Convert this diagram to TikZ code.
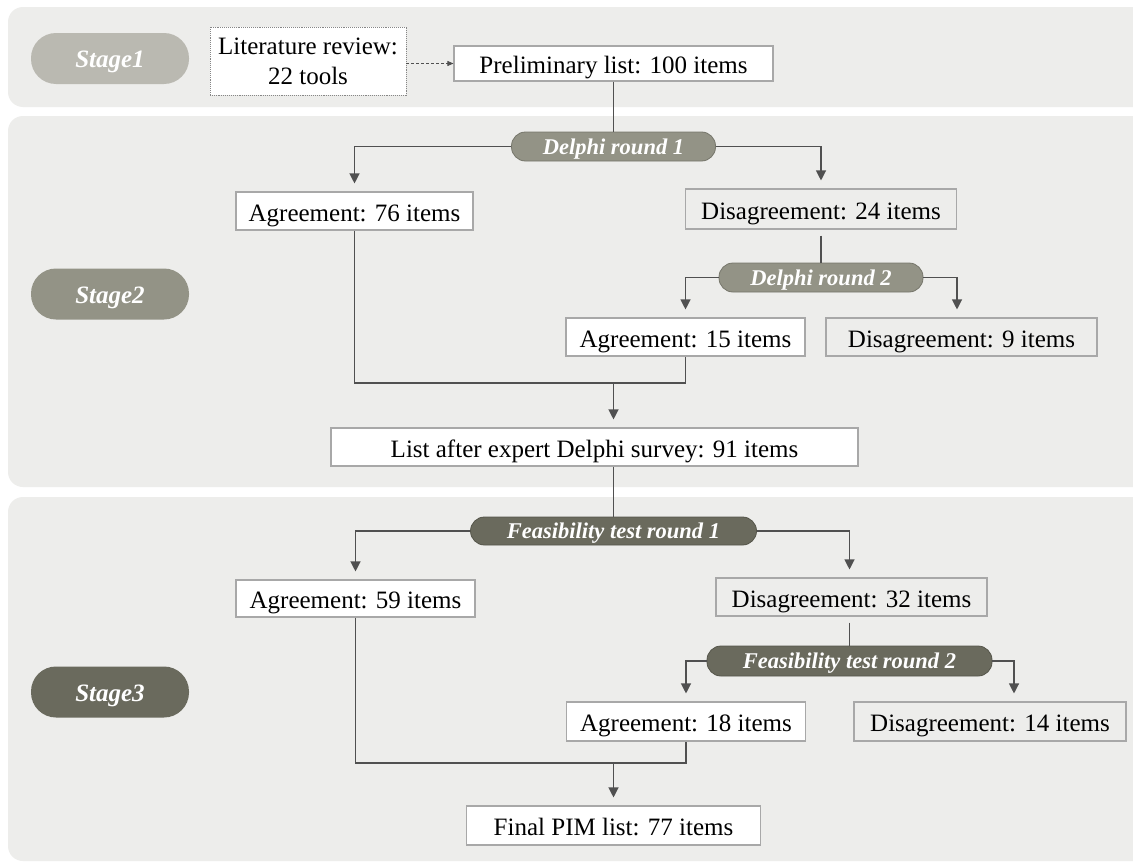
\documentclass[tikz,border=0pt]{standalone}
\usepackage{fontspec}
\setmainfont{Liberation Serif}
\usetikzlibrary{arrows.meta,calc}
\definecolor{panelbg}{HTML}{EDEDEB}
\definecolor{boxline}{HTML}{A8A8A8}
\definecolor{lineclr}{HTML}{505050}
\definecolor{stageA}{HTML}{BAB9B1}
\definecolor{stageB}{HTML}{939386}
\definecolor{stageC}{HTML}{6A6A5D}
\newcommand{\boxfont}{\fontsize{25}{30}\selectfont}
\newcommand{\pillfont}{\fontsize{22.5}{24}\selectfont\bfseries\itshape}
\newcommand{\stagefont}{\fontsize{25}{28}\selectfont\bfseries\itshape}
\tikzset{
  panel/.style={fill=panelbg, draw=none, rounded corners=15pt},
  basebox/.style={draw=boxline, line width=1.1pt, fill=white, inner sep=0pt, font=\boxfont, align=center},
  box/.style={basebox, text height=20pt, text depth=0pt},
  disbox/.style={box, fill=panelbg},
  pill/.style={rounded corners=14pt, inner sep=0pt, text=white, font=\pillfont, line width=0.8pt, text height=15pt, text depth=0pt},
  stagepill/.style={rounded corners=25pt, inner sep=0pt, text=white, font=\stagefont, minimum width=158pt, minimum height=51pt, text height=18pt, text depth=0pt},
  conn/.style={draw=lineclr, line width=1.2pt},
  arr/.style={conn, -{Triangle[length=10pt,width=10pt]}, shorten >=8pt}
}
\begin{document}
\begin{tikzpicture}[x=1pt,y=-1pt]
\useasboundingbox (0,0) rectangle (1133,862);
\fill[white] (0,0) rectangle (1133,862);
\begin{scope}
\clip (0,0) rectangle (1133,862);
\fill[panel] (8,7) rectangle (1160,107);
\fill[panel] (8,116) rectangle (1160,487);
\fill[panel] (8,497) rectangle (1160,861);
\end{scope}

% stage labels
\node[stagepill, fill=stageA] (s1) at (110,58.5) {Stage1};
\node[stagepill, fill=stageB] (s2) at (110,294) {Stage2};
\node[stagepill, fill=stageC] (s3) at (110,692) {Stage3};

% stage 1
\node[basebox, draw=boxline!80!black, densely dotted, line width=0.8pt, minimum width=196pt, minimum height=68pt] (lit) at (308,61) {Literature review:\\22 tools};
\node[box, minimum width=319pt, minimum height=35pt] (prelim) at (613.5,63.5) {Preliminary list: 100 items};

% stage 2
\node[pill, fill=stageB, draw=stageB!80!black, minimum width=204pt, minimum height=29pt] (d1) at (613.5,146.5) {Delphi round 1};
\node[box, minimum width=237pt, minimum height=38pt] (a76) at (354.5,211) {Agreement: 76 items};
\node[disbox, minimum width=271pt, minimum height=40pt] (n24) at (821,209) {Disagreement: 24 items};
\node[pill, fill=stageB, draw=stageB!80!black, minimum width=204pt, minimum height=29pt] (d2) at (821,277.5) {Delphi round 2};
\node[box, minimum width=239pt, minimum height=38pt] (a15) at (685.5,337) {Agreement: 15 items};
\node[disbox, minimum width=271pt, minimum height=38pt] (n9) at (961.5,337) {Disagreement: 9 items};
\node[box, minimum width=527pt, minimum height=38pt] (list) at (594.5,447) {List after expert Delphi survey: 91 items};
\coordinate (m1) at (613.5,383);

% stage 3
\node[pill, fill=stageC, draw=stageC!80!black, minimum width=286pt, minimum height=28pt] (f1) at (613.5,531) {Feasibility test round 1};
\node[box, minimum width=239pt, minimum height=37pt] (a59) at (355.5,598.5) {Agreement: 59 items};
\node[disbox, minimum width=271pt, minimum height=38pt] (n32) at (851.5,597) {Disagreement: 32 items};
\node[pill, fill=stageC, draw=stageC!80!black, minimum width=285pt, minimum height=30pt] (f2) at (849.5,661) {Feasibility test round 2};
\node[box, minimum width=239pt, minimum height=39pt] (a18) at (686,721.5) {Agreement: 18 items};
\node[disbox, minimum width=272pt, minimum height=39pt] (n14) at (990,721.5) {Disagreement: 14 items};
\node[box, minimum width=294pt, minimum height=39pt] (final) at (613.5,825.5) {Final PIM list: 77 items};
\coordinate (m2) at (613.5,763);

% connectors stage 1
\draw[lineclr, line width=0.8pt, densely dashed, -{Triangle[length=6pt,width=5pt]}] (lit.east |- prelim.west) -- (prelim.west);
\draw[conn] (prelim.south) -- (d1.north);

% connectors stage 2
\draw[arr] (d1.west) -| (a76.north);
\draw[arr] (d1.east) -| (n24.north);
\draw[conn, shorten <=6pt] (n24.south) -- (d2.north);
\draw[arr] (d2.west) -| (a15.north);
\draw[arr] (d2.east) -| ([xshift=-4.5pt]n9.north);
\draw[conn] (a76.south) |- (m1) -| (a15.south);
\draw[arr] (m1) -- (m1 |- list.north);
\draw[conn] (m1 |- list.south) -- (f1.north);

% connectors stage 3
\draw[arr] (f1.west) -| (a59.north);
\draw[arr] (f1.east) -| ([xshift=-2pt]n32.north);
\draw[conn, shorten <=6pt] ([xshift=-2pt]n32.south) -- ([xshift=-2pt]n32.south |- f2.north);
\draw[arr] (f2.west) -| (a18.north);
\draw[arr] (f2.east) -| ([xshift=24pt]n14.north);
\draw[conn] (a59.south) |- (m2) -| (a18.south);
\draw[arr] (m2) -- (m2 |- final.north);
\end{tikzpicture}
\end{document}
